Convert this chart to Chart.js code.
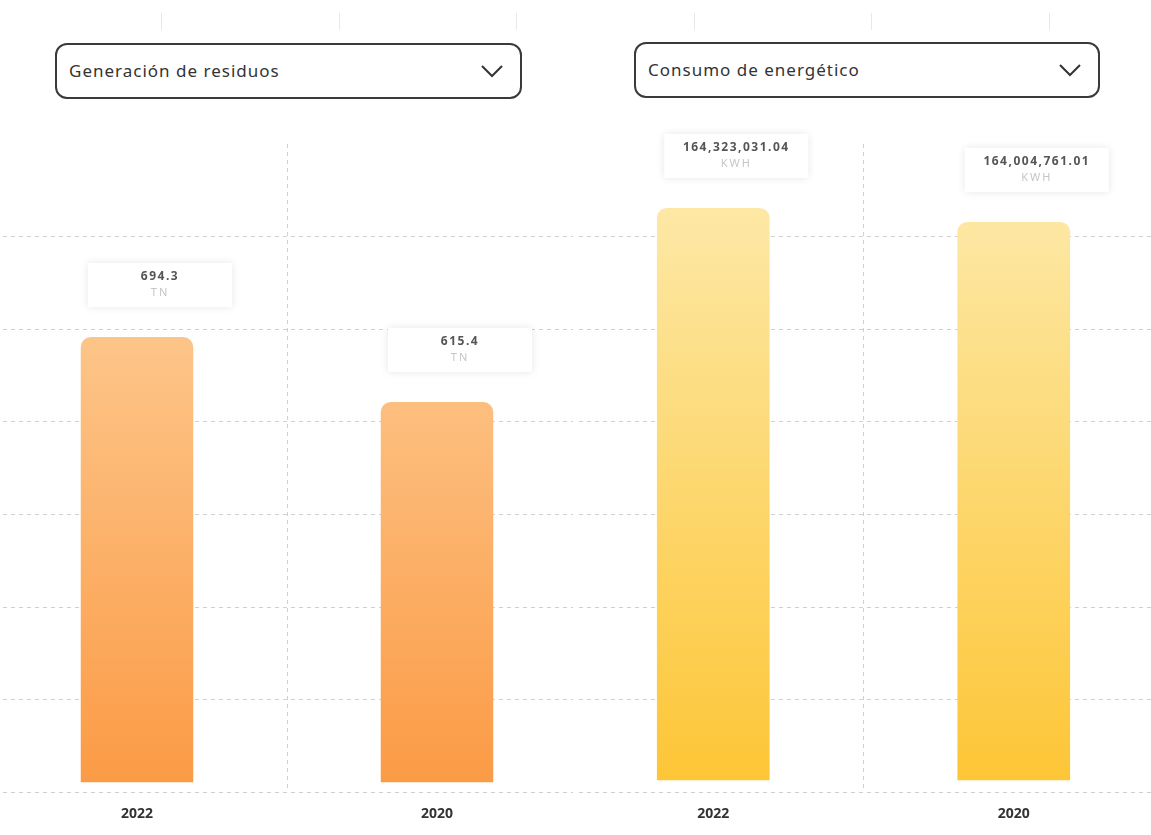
<!DOCTYPE html>
<html>
<head>
<meta charset="utf-8">
<script src="https://cdn.jsdelivr.net/npm/chart.js@4/dist/chart.umd.min.js"></script>
<style>
  html, body { margin: 0; padding: 0; background: #fff; overflow: hidden; }
  body { width: 1151px; height: 835px; position: relative; font-family: "Noto Sans", "Open Sans", sans-serif; }
  .tick { position: absolute; top: 13px; width: 1px; height: 17px; background: #e8e8e8; }
  .select {
    position: absolute; box-sizing: border-box; height: 56px;
    border: 2px solid #3a3a3a; border-radius: 12px; background: #fff;
    font-size: 17px; letter-spacing: 1px; color: #333; line-height: 52px; padding-left: 12px;
  }
  .select svg { position: absolute; right: 16px; top: 18px; }
  .clip { position: absolute; top: 110px; height: 725px; overflow: hidden; }
  .box { position: absolute; top: 0; height: 725px; }
</style>
</head>
<body>
<div class="tick" style="left:161px"></div>
<div class="tick" style="left:339px"></div>
<div class="tick" style="left:516px"></div>
<div class="tick" style="left:694px"></div>
<div class="tick" style="left:871px"></div>
<div class="tick" style="left:1049px"></div>

<div class="select" style="left:55px; top:43px; width:467px;">Generación de residuos
  <svg width="24" height="16" viewBox="0 0 24 16"><polyline points="2,3 12,13 22,3" fill="none" stroke="#333" stroke-width="2"/></svg>
</div>
<div class="select" style="left:634px; top:42px; width:466px;">Consumo de energético
  <svg width="24" height="16" viewBox="0 0 24 16"><polyline points="2,3 12,13 22,3" fill="none" stroke="#333" stroke-width="2"/></svg>
</div>

<div class="clip" style="left:0; width:573px;">
  <div class="box" style="left:-13px; width:600px;"><canvas id="residuos"></canvas></div>
</div>
<div class="clip" style="left:575px; width:576px;">
  <div class="box" style="left:-12px; width:601px;"><canvas id="energia"></canvas></div>
</div>

<script>
const years = ['2022', '2020'];
const residuos = [694.3, 615.4];
const energia = [164323031.04, 164004761.01];
const residuosUnit = 'TN';
const energiaUnit = 'KWH';

// caja blanca con valor y unidad encima de cada barra
const valueBoxes = {
  id: 'valueBoxes',
  afterDatasetsDraw(chart, args, opts) {
    const ctx = chart.ctx;
    const meta = chart.getDatasetMeta(0);
    const values = chart.data.datasets[0].data;
    meta.data.forEach((bar, i) => {
      const w = 144, h = 44;
      const cx = bar.x + 23;
      const top = bar.y - 30 - h;
      ctx.save();
      ctx.shadowColor = 'rgba(0,0,0,0.10)';
      ctx.shadowBlur = 8;
      ctx.fillStyle = '#fff';
      ctx.fillRect(cx - w / 2, top, w, h);
      ctx.restore();
      ctx.save();
      ctx.textAlign = 'center';
      ctx.textBaseline = 'middle';
      ctx.fillStyle = '#555';
      ctx.letterSpacing = '1.5px';
      ctx.font = 'bold 12px "Noto Sans", sans-serif';
      ctx.fillText(opts.format(values[i]), cx, top + 14);
      ctx.fillStyle = '#c6c6c6';
      ctx.letterSpacing = '2px';
      ctx.font = '11px "Noto Sans", sans-serif';
      ctx.fillText(opts.unit, cx, top + 30);
      ctx.restore();
    });
  }
};

function makeChart(id, values, yMin, yMax, base, topColor, bottomColor, unit, format) {
  const canvas = document.getElementById(id);
  return new Chart(canvas, {
    type: 'bar',
    data: {
      labels: years,
      datasets: [{
        data: values,
        base: base,
        backgroundColor: (c) => {
          const area = c.chart.chartArea;
          if (!area) return bottomColor;
          const g = c.chart.ctx.createLinearGradient(0, area.top + 60, 0, area.bottom);
          g.addColorStop(0, topColor);
          g.addColorStop(1, bottomColor);
          return g;
        },
        borderRadius: 10,
        borderSkipped: 'start',
        categoryPercentage: 1,
        barPercentage: 0.375
      }]
    },
    options: {
      responsive: true,
      maintainAspectRatio: false,
      animation: false,
      layout: { padding: { top: 34, bottom: 0, left: 0, right: 0 } },
      plugins: {
        legend: { display: false },
        tooltip: { enabled: false },
        valueBoxes: { unit: unit, format: format }
      },
      scales: {
        x: {
          grid: {
            offset: true,
            drawTicks: false,
            color: (c) => c.index === 1 ? '#d0d0d0' : 'rgba(0,0,0,0)'
          },
          border: { display: false, dash: [4, 4] },
          ticks: { color: '#333', font: { family: '"Noto Sans", sans-serif', size: 14, weight: 'bold' }, padding: 13 }
        },
        y: {
          min: yMin,
          max: yMax,
          afterBuildTicks: (scale) => {
            const step = (scale.max - scale.min) / 7;
            scale.ticks = [0, 1, 2, 3, 4, 5, 6].map(i => ({ value: scale.min + i * step }));
          },
          grid: { color: '#d0d0d0', drawTicks: false },
          border: { display: false, dash: [4, 4] },
          ticks: { display: false }
        }
      }
    },
    plugins: [valueBoxes]
  });
}

makeChart('residuos', residuos, 141, 929, 153, '#fdd19d', '#fb9a44', residuosUnit,
  (v) => String(v));
makeChart('energia', energia, 151024554, 165777907, 151297343, '#fde8a6', '#fdc534', energiaUnit,
  (v) => v.toLocaleString('en-US', { minimumFractionDigits: 2, maximumFractionDigits: 2 }));
</script>
</body>
</html>
